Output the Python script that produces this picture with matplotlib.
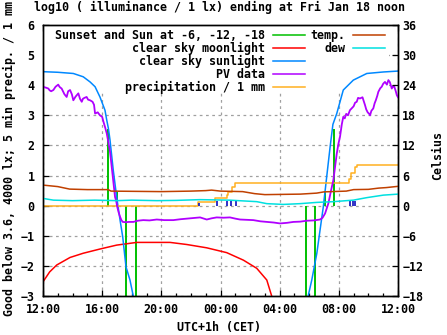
import numpy as np
import matplotlib
matplotlib.use("Agg")
import matplotlib.pyplot as plt
from matplotlib.patches import Rectangle
from matplotlib.lines import Line2D

# hours since 12:00 (Jan 17) -> 24 = 12:00 Jan 18
tick_hours = [0, 4, 8, 12, 16, 20, 24]
tick_labels = ["12:00", "16:00", "20:00", "00:00", "04:00", "08:00", "12:00"]

# sunset / sunrise and sun at -6, -12, -18 deg (impulses)
sun_event_t = [4.42, 4.98, 5.61, 6.29, 17.80, 18.41, 19.05, 19.70]
sun_event_v = [2.55, 0.46, -3.5, -3.5, -3.5, -3.5, 0.46, 2.55]

# clear sky moonlight (log10 lx)
moon_t = [0.0, 0.45, 0.93, 1.83, 2.72, 3.85, 4.98, 6.34, 8.59, 9.72, 11.07, 12.42, 13.55, 14.45, 15.13, 15.46]
moon_v = [-2.53, -2.2, -1.97, -1.72, -1.58, -1.44, -1.31, -1.22, -1.22, -1.29, -1.40, -1.56, -1.81, -2.08, -2.47, -3.0]

# clear sky sunlight (log10 lx)
sun_t = [0.0, 1.0, 2.05, 2.72, 3.18, 3.52, 3.85, 4.19, 4.31, 4.42, 4.53, 4.75, 4.98, 5.21, 5.39, 5.61, 5.88,
         6.08, 6.3, 17.8, 17.94, 18.17, 18.51, 18.73, 18.95, 19.18, 19.41, 19.6, 19.86, 20.30, 20.98, 21.89,
         23.01, 24.0]
sun_v = [4.45, 4.43, 4.39, 4.28, 4.11, 3.95, 3.61, 3.17, 2.84, 2.57, 2.18, 1.18, 0.29, -0.48, -1.04, -2.03,
         -2.47, -2.95, -3.5, -3.5, -2.97, -2.47, -1.59, -0.81, -0.04, 0.96, 1.95, 2.7, 3.06, 3.84, 4.17, 4.39,
         4.44, 4.47]

# PV data (log10 lx)
pv_t = [0.0, 0.1, 0.2, 0.36, 0.45, 0.55, 0.70, 0.85, 1.03, 1.1, 1.15, 1.26, 1.35, 1.45, 1.60, 1.7, 1.83,
        1.95, 2.05, 2.2, 2.3, 2.39, 2.5, 2.62, 2.7, 2.8, 2.95, 3.05, 3.18, 3.35, 3.45, 3.52, 3.7, 3.85, 4.0,
        4.08, 4.2, 4.31, 4.42, 4.53, 4.62, 4.71, 4.8, 4.87, 4.95, 5.02, 5.1, 5.21, 5.3, 5.39, 5.6, 5.8, 6.11,
        6.4, 6.78, 7.2, 7.69, 8.2, 8.81, 9.3, 9.72, 10.2, 10.62, 11.07, 11.4, 11.74, 12.2, 12.64, 13.0, 13.32,
        13.8, 14.22, 14.7, 15.13, 15.6, 16.02, 16.5, 16.92, 17.4, 17.83, 18.3, 18.73, 18.9, 19.07, 19.18,
        19.29, 19.45, 19.63, 19.75, 19.86, 19.97, 20.08, 20.2, 20.30, 20.4, 20.5, 20.62, 20.75, 20.9, 21.0,
        21.1, 21.21, 21.3, 21.43, 21.6, 21.7, 21.77, 21.85, 21.95, 22.05, 22.11, 22.2, 22.33, 22.42, 22.5,
        22.6, 22.67, 22.8, 22.9, 23.0, 23.12, 23.25, 23.35, 23.45, 23.58, 23.68, 23.75, 23.85, 23.92, 24.0]
pv_v = [3.97, 3.93, 3.92, 3.89, 3.83, 3.80, 3.84, 3.95, 4.02, 3.96, 3.93, 3.89, 3.80, 3.70, 3.61, 3.80, 3.84,
        3.70, 3.50, 3.62, 3.68, 3.73, 3.55, 3.45, 3.55, 3.58, 3.61, 3.52, 3.50, 3.45, 3.35, 3.06, 3.10, 3.00, 2.95,
        2.80, 2.60, 2.40, 2.10, 1.80, 1.40, 1.00, 0.60, 0.29, 0.15, -0.04, -0.20, -0.37, -0.48, -0.54, -0.55, -0.54,
        -0.54, -0.50, -0.48, -0.49, -0.46, -0.48, -0.48, -0.45, -0.43, -0.41, -0.39, -0.46, -0.42, -0.39, -0.40,
        -0.39, -0.43, -0.46, -0.47, -0.48, -0.52, -0.54, -0.56, -0.59, -0.57, -0.54, -0.53, -0.50, -0.49, -0.46,
        -0.40, -0.26, -0.10, 0.07, 0.45, 0.85, 1.30, 1.73, 2.05, 2.29, 2.70, 2.95, 2.90, 3.05, 3.00, 3.17, 3.25,
        3.30, 3.42, 3.45, 3.58, 3.56, 3.60, 3.45, 3.34, 3.20, 3.10, 3.05, 3.00, 3.15, 3.23, 3.40, 3.50, 3.65,
        3.78, 3.90, 3.95, 4.05, 4.11, 4.02, 4.17, 4.10, 3.89, 3.98, 3.95, 3.80, 3.67, 3.60]

# cumulative precipitation / 1 mm
rain_t = [0.0, 10.5, 11.63, 12.42, 12.53, 12.76, 12.98, 20.69, 20.85, 21.1, 21.2, 24.0]
rain_v = [0.0, 0.13, 0.27, 0.35, 0.46, 0.63, 0.74, 0.90, 1.07, 1.29, 1.35, 1.35]

# 5 min precipitation / 1 mm
rain5_t = [10.55, 11.74, 12.42, 12.73, 13.05, 20.76, 20.94, 21.12]
rain5_v = [0.10, 0.16, 0.16, 0.16, 0.16, 0.15, 0.15, 0.15]

# temperature and dew point, Celsius
temp_t = [0.0, 1.0, 1.8, 3.0, 4.4, 4.6, 8.0, 10.0, 11.0, 11.4, 12.0, 13.5, 14.3, 15.0, 17.4, 18.5, 19.0,
          20.5, 21.0, 22.0, 22.7, 23.2, 24.0]
temp_c = [4.1, 3.8, 3.3, 3.2, 3.2, 2.9, 2.8, 2.9, 3.0, 3.1, 2.9, 2.8, 2.4, 2.2, 2.3, 2.5, 2.75,
          2.9, 3.2, 3.25, 3.5, 3.6, 3.85]
dew_t = [0.0, 0.7, 2.0, 3.5, 5.0, 6.0, 7.7, 9.0, 10.6, 12.6, 14.45, 15.13, 16.25, 17.38, 18.5, 19.63,
         20.98, 21.89, 23.01, 24.0]
dew_c = [1.45, 1.1, 1.0, 1.1, 1.0, 1.1, 1.0, 1.05, 1.2, 1.1, 0.8, 0.4, 0.25, 0.4, 0.65, 0.8,
         1.1, 1.6, 2.1, 2.3]

FONT = dict(family="DejaVu Sans Mono", weight="bold", size=8.4)

C_GREEN = "#00c000"
C_RED = "#ff0000"
C_SUN = "#0088ff"
C_PV = "#b000ff"
C_RAIN = "#ffb020"
C_RAIN5 = "#2020c0"
C_TEMP = "#c04000"
C_DEW = "#00e0e0"


def make_plot():
    W, H = 447, 335
    fig = plt.figure(figsize=(W / 100, H / 100), dpi=100)
    x0, x1, y0, y1 = 43, 398, 25, 296
    ax = fig.add_axes([x0 / W, 1 - y1 / H, (x1 - x0) / W, (y1 - y0) / H])
    ax2 = ax.twinx()

    ax.set_xlim(0, 24)
    ax.set_ylim(-3, 6)
    ax2.set_ylim(-18, 36)

    ax.set_axisbelow(True)
    ax.grid(True, color="#a0a0a0", linestyle=(0, (2.2, 2.8)), lw=0.9)

    # key area hides the grid
    ax.add_patch(Rectangle((0, 0.753), 0.975, 0.247, transform=ax.transAxes,
                           facecolor="white", edgecolor="none", zorder=1))

    lw = 1.1
    ax.vlines(sun_event_t, 0, sun_event_v, colors=C_GREEN, lw=1.4, zorder=2)
    ax.plot(moon_t, moon_v, color=C_RED, lw=lw, zorder=2)
    ax.plot(sun_t, sun_v, color=C_SUN, lw=lw, zorder=2)
    ax.plot(pv_t, pv_v, color=C_PV, lw=1.3, zorder=3)
    ax.plot(rain_t, rain_v, color=C_RAIN, lw=lw, drawstyle="steps-post", zorder=2)
    ax.vlines(rain5_t, 0, rain5_v, colors=C_RAIN5, lw=1.3, zorder=2)
    ax2.plot(temp_t, temp_c, color=C_TEMP, lw=lw)
    ax2.plot(dew_t, dew_c, color=C_DEW, lw=lw)

    ax.set_xticks(tick_hours)
    ax.set_xticklabels(tick_labels)
    ax.set_xticks(np.arange(0, 25, 1), minor=True)
    ax.set_yticks(np.arange(-3, 7, 1))
    ax2.set_yticks(np.arange(-18, 37, 6))
    ax.tick_params(axis="both", which="major", direction="in", length=4, width=0.9)
    ax.tick_params(axis="x", which="minor", direction="in", length=2.5, width=0.9)
    ax.tick_params(axis="x", which="both", top=True)
    ax.tick_params(axis="x", pad=5)
    ax.tick_params(axis="y", pad=6)
    ax2.tick_params(axis="y", direction="in", length=4, width=0.9, pad=3)
    for lab in ax.get_xticklabels() + ax.get_yticklabels() + ax2.get_yticklabels():
        lab.set_fontproperties(matplotlib.font_manager.FontProperties(**FONT))
    for a in (ax, ax2):
        for sp in a.spines.values():
            sp.set_linewidth(1.0)

    # key, gnuplot style: right aligned text, sample after it
    rows = [0.963, 0.915, 0.867, 0.819, 0.771]
    col1 = [("Sunset and Sun at -6, -12, -18", C_GREEN),
            ("clear sky moonlight", C_RED),
            ("clear sky sunlight", C_SUN),
            ("PV data", C_PV),
            ("precipitation / 1 mm", C_RAIN)]
    col2 = [("temp.", C_TEMP), ("dew", C_DEW)]
    for (label, col), ry in zip(col1, rows):
        ax2.text(0.625, ry, label, transform=ax2.transAxes, ha="right", va="center", **FONT)
        ax2.add_line(Line2D([0.648, 0.738], [ry, ry], transform=ax2.transAxes, color=col, lw=lw))
    for (label, col), ry in zip(col2, rows):
        ax2.text(0.851, ry, label, transform=ax2.transAxes, ha="right", va="center", **FONT)
        ax2.add_line(Line2D([0.873, 0.963], [ry, ry], transform=ax2.transAxes, color=col, lw=lw))

    fig.text(220 / W, 1 - 7 / H, "log10 ( illuminance / 1 lx) ending at Fri Jan 18 noon",
             ha="center", va="center", **FONT)
    fig.text(219 / W, 1 - 328 / H, "UTC+1h (CET)", ha="center", va="center", **FONT)
    fig.text(9 / W, 1 - 158 / H, "Good below 3.6, 4000 lx; 5 min precip. / 1 mm",
             rotation=90, ha="center", va="center", **FONT)
    fig.text(438 / W, 1 - 155 / H, "Celsius", rotation=90, ha="center", va="center", **FONT)

    fig.savefig("out.png", dpi=100)


if __name__ == "__main__":
    make_plot()
